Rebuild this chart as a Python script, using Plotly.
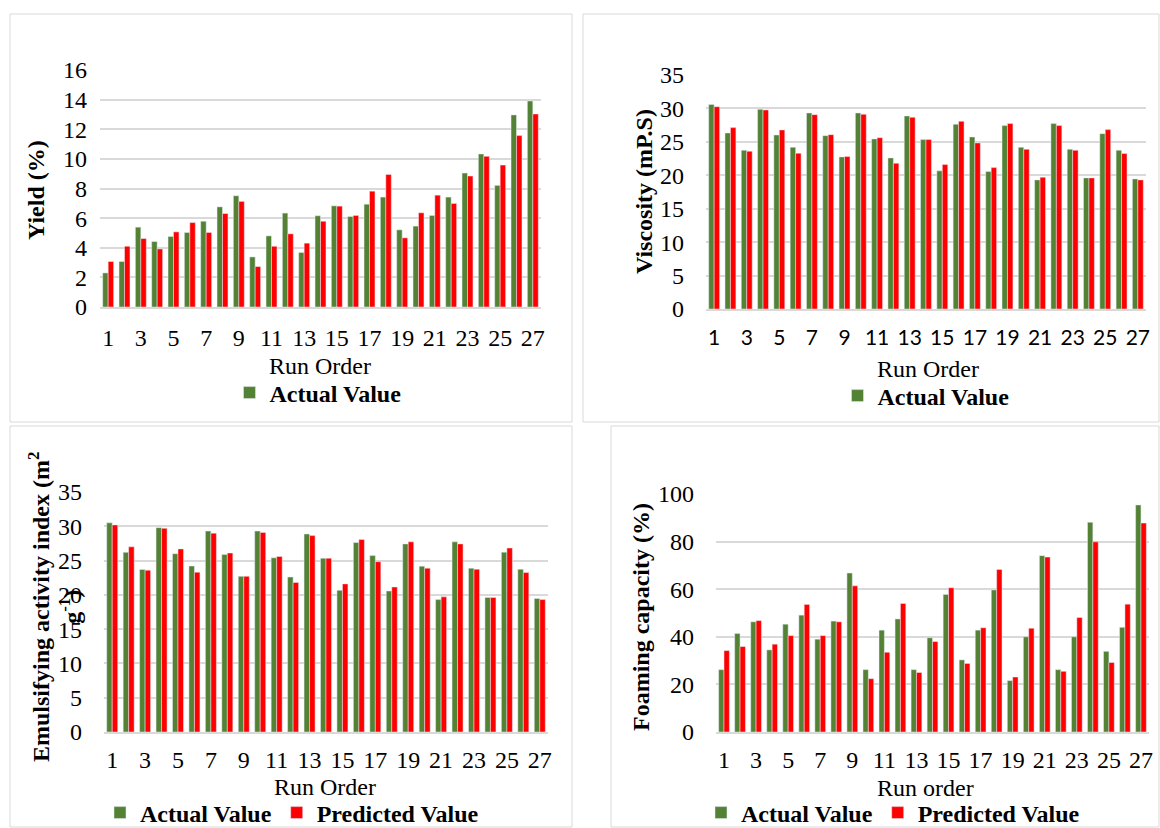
import plotly.graph_objects as go

# ---------------- data ----------------
run_order = list(range(1, 28))
run_ticks = [1, 3, 5, 7, 9, 11, 13, 15, 17, 19, 21, 23, 25, 27]
run_tick_labels = [str(v) for v in run_ticks]

yield_actual = [2.3, 3.07, 5.39, 4.42, 4.76, 5.03, 5.79, 6.76, 7.51, 3.38, 4.8, 6.34, 3.68, 6.16,
                6.83, 6.11, 6.94, 7.42, 5.21, 5.46, 6.18, 7.42, 9.04, 10.33, 8.21, 12.97, 13.91]
yield_predicted = [3.07, 4.1, 4.62, 3.92, 5.07, 5.7, 5.03, 6.31, 7.13, 2.73, 4.1, 4.94, 4.31, 5.79,
                   6.81, 6.18, 7.82, 8.95, 4.67, 6.36, 7.55, 6.99, 8.84, 10.17, 9.58, 11.57, 13.03]

viscosity_actual = [30.6, 26.33, 23.74, 29.87, 26.03, 24.19, 29.32, 25.93, 22.75, 29.32, 25.44, 22.6,
                    28.87, 25.34, 20.66, 27.63, 25.73, 20.56, 27.43, 24.19, 19.31, 27.73, 23.89, 19.61,
                    26.23, 23.74, 19.46]
viscosity_predicted = [30.26, 27.13, 23.59, 29.77, 26.78, 23.3, 29.07, 26.08, 22.8, 29.12, 25.63, 21.8,
                       28.67, 25.34, 21.6, 28.07, 24.84, 21.15, 27.73, 23.89, 19.71, 27.43, 23.74, 19.61,
                       26.83, 23.25, 19.31]

eai_actual = [30.5, 26.2, 23.7, 29.8, 26.0, 24.2, 29.3, 25.9, 22.7, 29.3, 25.4, 22.6,
              28.88, 25.34, 20.66, 27.63, 25.73, 20.56, 27.43, 24.19, 19.31, 27.73, 23.89, 19.61,
              26.23, 23.74, 19.46]
eai_predicted = [30.2, 27.0, 23.6, 29.7, 26.7, 23.3, 29.0, 26.1, 22.7, 29.1, 25.6, 21.8,
                 28.64, 25.34, 21.6, 28.07, 24.84, 21.15, 27.73, 23.89, 19.71, 27.43, 23.74, 19.61,
                 26.83, 23.25, 19.31]

foam_actual = [26.2, 41.4, 46.3, 34.5, 45.3, 49.1, 39.0, 46.6, 66.8, 26.2, 42.8, 47.5, 26.2, 39.6,
               57.8, 30.3, 42.8, 59.7, 21.6, 40.0, 74.1, 26.2, 40.0, 88.1, 33.9, 44.0, 95.4]
foam_predicted = [34.2, 35.9, 46.8, 36.9, 40.5, 53.6, 40.5, 46.3, 61.4, 22.4, 33.5, 54.0, 25.0, 38.0,
                  60.6, 28.8, 43.8, 68.3, 23.1, 43.6, 73.5, 25.5, 48.1, 79.9, 29.2, 53.7, 87.8]

# ---------------- style ----------------
W, H = 1160, 828
GREEN = "#548235"
RED = "#FF0000"
GRID = "#d9d9d9"
SERIF = "Liberation Serif"
SANS = "Lato"
FS = 24


def px_x(a, b):
    return [a / W, b / W]


def px_y(top, bottom):
    return [1 - bottom / H, 1 - top / H]


fig = go.Figure()

panels = [
    # (suffix, actual, predicted, x-domain px, y-domain px, y max, dtick, tick font,
    #  y-label standoff, x-label standoff, legend, predicted shown in legend)
    ("", yield_actual, yield_predicted, (100, 541), (70, 307), 16, 2, SERIF, 12, 8, "legend", False),
    ("2", viscosity_actual, viscosity_predicted, (706, 1146), (75, 309), 35, 5, SANS, 21, 9, "legend2", False),
    ("3", eai_actual, eai_predicted, (104, 548), (492, 732), 35, 5, SERIF, 21, 5, "legend3", True),
    ("4", foam_actual, foam_predicted, (716, 1149), (494, 732), 100, 20, SERIF, 21, 5, "legend4", True),
]

layout_axes = {}
for sfx, act, pred, xd, yd, ymax, dt, xfont, ystand, xstand, leg, pred_leg in panels:
    fig.add_trace(go.Bar(x=run_order, y=act, name="Actual Value", marker_color=GREEN,
                         xaxis="x" + sfx, yaxis="y" + sfx, legend=leg, showlegend=True))
    fig.add_trace(go.Bar(x=run_order, y=pred, name="Predicted Value", marker_color=RED,
                         xaxis="x" + sfx, yaxis="y" + sfx, legend=leg, showlegend=pred_leg))
    layout_axes["xaxis" + sfx] = dict(
        domain=px_x(*xd), anchor="y" + sfx, range=[0.5, 27.5], automargin=False,
        tickmode="array", tickvals=run_ticks, ticktext=run_tick_labels,
        showgrid=False, showline=True, linecolor=GRID, linewidth=1.5,
        ticks="", ticklabelstandoff=xstand,
        tickfont=dict(family=xfont, size=FS if xfont == SERIF else 21, color="#000"),
    )
    layout_axes["yaxis" + sfx] = dict(
        domain=px_y(*yd), anchor="x" + sfx, range=[0, ymax], dtick=dt, automargin=False,
        showgrid=True, gridcolor=GRID, gridwidth=1.5, zeroline=False,
        showline=False, ticks="", ticklabelstandoff=ystand,
        tickfont=dict(family=SERIF, size=FS, color="#000"),
    )

fig.update_layout(**layout_axes)

# chart-area frames
frames = [(10, 14, 572, 422), (583, 14, 1159, 422), (10, 426, 572, 827), (611, 426, 1159, 827)]
shapes = []
for x0, y0, x1, y1 in frames:
    shapes.append(dict(type="rect", xref="paper", yref="paper",
                       x0=x0 / W, x1=x1 / W, y0=1 - y1 / H, y1=1 - y0 / H,
                       line=dict(color=GRID, width=1), fillcolor="rgba(0,0,0,0)", layer="below"))

title_font = dict(family=SERIF, size=FS, color="#000", weight="bold")
label_font = dict(family=SERIF, size=FS, color="#000")


def ann(text, x, y, font, angle=0):
    return dict(text=text, x=x / W, y=1 - y / H, xref="paper", yref="paper",
                showarrow=False, font=font, textangle=angle,
                xanchor="center", yanchor="middle")


annotations = [
    ann("Yield (%)", 36, 190, title_font, -90),
    ann("Viscosity (mP.S)", 644, 192, title_font, -90),
    ann("Emulsifying activity index (m<sup>2</sup><br>g<sup>-1</sup>)", 54, 607, title_font, -90),
    ann("Foaming capacity (%)", 641, 617, title_font, -90),
    ann("Run Order", 320, 366, label_font),
    ann("Run Order", 928, 369, label_font),
    ann("Run Order", 325, 787, label_font),
    ann("Run order", 925, 788, label_font),
]

leg_font = dict(family=SERIF, size=FS, color="#000", weight="bold")


def legend_at(xc, yc):
    return dict(orientation="h", x=xc / W, y=1 - yc / H, xanchor="center", yanchor="middle",
                font=leg_font, bgcolor="rgba(0,0,0,0)", borderwidth=0,
                itemwidth=30, tracegroupgap=0, traceorder="normal")


fig.update_layout(
    width=W, height=H,
    margin=dict(l=0, r=0, t=0, b=0, autoexpand=False),
    paper_bgcolor="white", plot_bgcolor="white",
    barmode="group", bargap=0.33, bargroupgap=0,
    shapes=shapes, annotations=annotations,
    legend=legend_at(318, 393),
    legend2=legend_at(926, 396),
    legend3=legend_at(292, 813),
    legend4=legend_at(893, 813),
)

fig.write_html("out.html")
